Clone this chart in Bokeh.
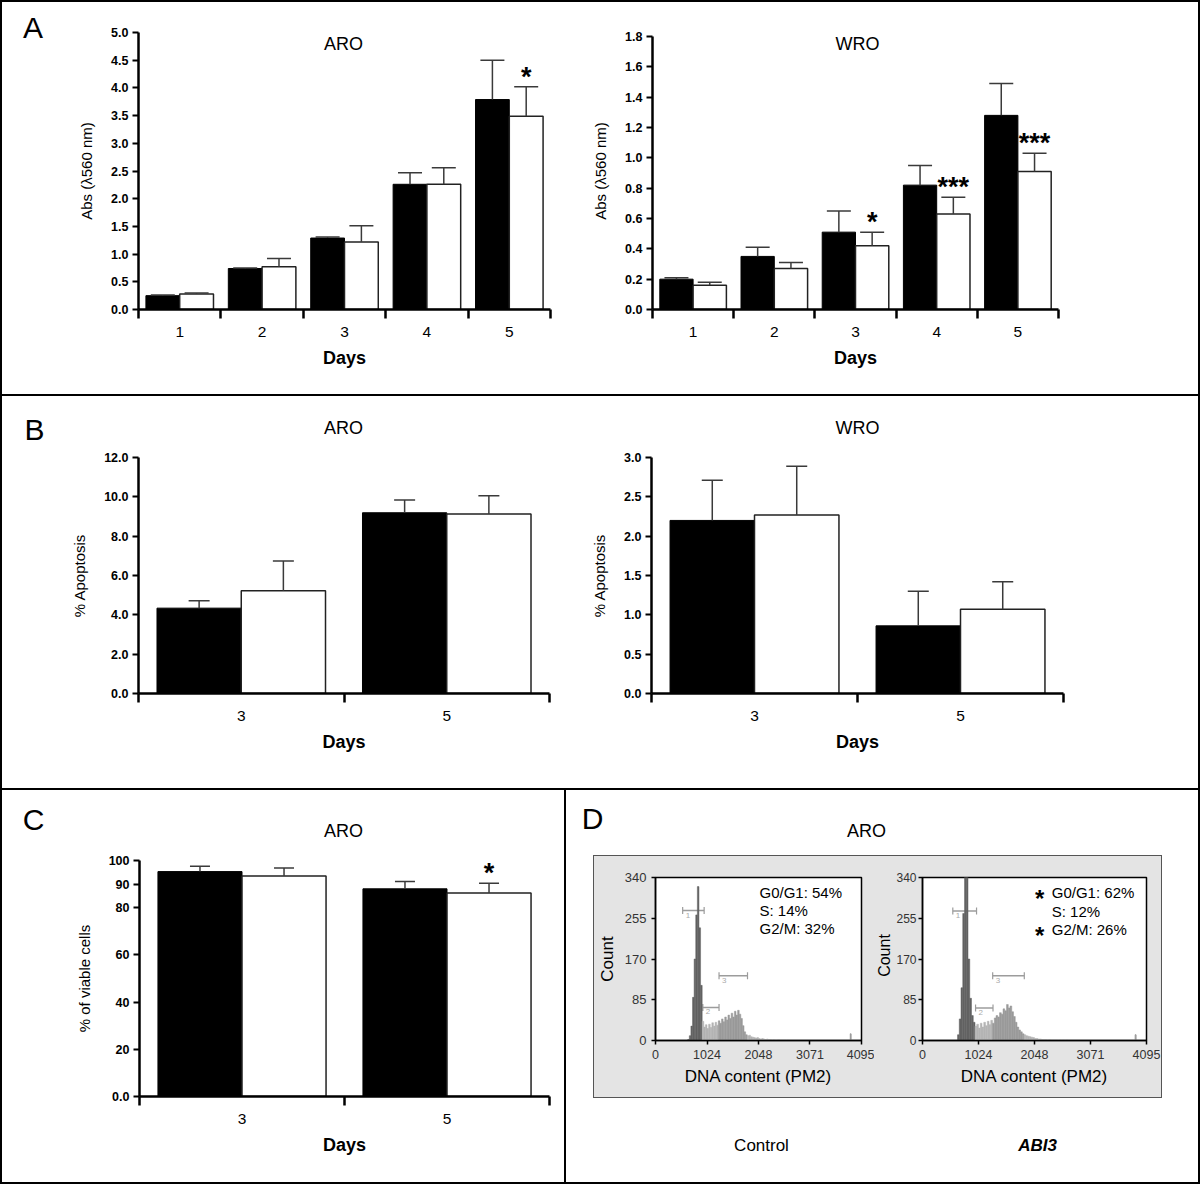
import math
from bokeh.plotting import figure
from bokeh.layouts import row, column
from bokeh.models import (Range1d, FixedTicker, Whisker, TeeHead, ColumnDataSource,
                          Spacer, Div)
from bokeh.core.properties import value
from bokeh.core.validation import silence
from bokeh.core.validation.warnings import MISSING_RENDERERS
from bokeh.embed import file_html
from bokeh.resources import INLINE

silence(MISSING_RENDERERS, True)
FONT = "Liberation Sans"

# ---------------- data ----------------
# A: proliferation, Abs (lambda 560 nm)
a_days = ["1", "2", "3", "4", "5"]
a_aro_ctrl = [0.25, 0.74, 1.29, 2.26, 3.79]
a_aro_ctrl_err = [0.01, 0.01, 0.02, 0.21, 0.71]
a_aro_abi3 = [0.28, 0.77, 1.22, 2.26, 3.49]
a_aro_abi3_err = [0.02, 0.15, 0.29, 0.30, 0.53]
a_aro_sig = ["", "", "", "", "*"]
a_aro_yticks = [0.0, 0.5, 1.0, 1.5, 2.0, 2.5, 3.0, 3.5, 4.0, 4.5, 5.0]
a_aro_ylabels = ["0.0", "0.5", "1.0", "1.5", "2.0", "2.5", "3.0", "3.5", "4.0", "4.5", "5.0"]

a_wro_ctrl = [0.20, 0.35, 0.51, 0.82, 1.28]
a_wro_ctrl_err = [0.01, 0.06, 0.14, 0.13, 0.21]
a_wro_abi3 = [0.16, 0.27, 0.42, 0.63, 0.91]
a_wro_abi3_err = [0.02, 0.04, 0.09, 0.11, 0.12]
a_wro_sig = ["", "", "*", "***", "***"]
a_wro_yticks = [0.0, 0.2, 0.4, 0.6, 0.8, 1.0, 1.2, 1.4, 1.6, 1.8]
a_wro_ylabels = ["0.0", "0.2", "0.4", "0.6", "0.8", "1.0", "1.2", "1.4", "1.6", "1.8"]

# B: % apoptosis
b_days = ["3", "5"]
b_aro_ctrl = [4.34, 9.19]
b_aro_ctrl_err = [0.38, 0.65]
b_aro_abi3 = [5.22, 9.13]
b_aro_abi3_err = [1.52, 0.93]
b_aro_sig = ["", ""]
b_aro_yticks = [0.0, 2.0, 4.0, 6.0, 8.0, 10.0, 12.0]
b_aro_ylabels = ["0.0", "2.0", "4.0", "6.0", "8.0", "10.0", "12.0"]

b_wro_ctrl = [2.20, 0.86]
b_wro_ctrl_err = [0.51, 0.44]
b_wro_abi3 = [2.27, 1.07]
b_wro_abi3_err = [0.62, 0.35]
b_wro_sig = ["", ""]
b_wro_yticks = [0.0, 0.5, 1.0, 1.5, 2.0, 2.5, 3.0]
b_wro_ylabels = ["0.0", "0.5", "1.0", "1.5", "2.0", "2.5", "3.0"]

# C: % of viable cells
c_days = ["3", "5"]
c_ctrl = [95.3, 88.0]
c_ctrl_err = [2.3, 3.1]
c_abi3 = [93.4, 86.2]
c_abi3_err = [3.4, 4.2]
c_sig = ["", "*"]
c_yticks = [0, 20, 40, 60, 80, 90, 100]
c_ylabels = ["0.0", "20", "40", "60", "80", "90", "100"]

# D: cell cycle histograms (DNA content, PM2 channel)
d_xticks = [0, 1024, 2048, 3071, 4095]
d_yticks = [0, 85, 170, 255, 340]
d_bin_start = 640
d_bin_width = 32
d_ctrl_counts = [2, 10, 30, 90, 170, 262, 321, 235, 115, 40,
                 28, 33, 25, 34, 27, 37, 30, 38, 32, 41,
                 36, 45, 39, 49, 43, 53, 46, 57, 49, 61,
                 53, 63, 55, 46, 31, 18, 12, 10, 11, 8,
                 7, 6, 5, 6, 4, 3, 4, 3, 2, 3,
                 2, 2, 1, 2, 1, 1, 2, 1, 1, 1,
                 1, 0, 1]
d_abi3_counts = [12, 45, 110, 265, 395, 360, 170, 88, 52, 38,
                 30, 34, 26, 36, 28, 38, 31, 40, 33, 42,
                 36, 47, 52, 49, 58, 55, 66, 62, 75, 68,
                 72, 60, 50, 38, 28, 22, 18, 14, 12, 10,
                 9, 8, 7, 6, 4, 4, 3, 3, 2, 2,
                 2, 1, 2, 1, 1, 1, 1, 0, 1, 0,
                 1, 0, 1]
d_ctrl_spike = [3872, 14]
d_abi3_spike = [3888, 12]
d_gate_names = ["1", "2", "3"]
d_ctrl_gates = [[540, 967], [941, 1263], [1263, 1829]]
d_ctrl_gate_y = [271, 69, 135]
d_abi3_gates = [[554, 988], [970, 1289], [1283, 1861]]
d_abi3_gate_y = [270, 68, 135]
d_ctrl_phases = ["G0/G1: 54%", "S: 14%", "G2/M: 32%"]
d_ctrl_sig = ["", "", ""]
d_abi3_phases = ["G0/G1: 62%", "S: 12%", "G2/M: 26%"]
d_abi3_sig = ["*", "", "*"]

BOX_GRAY = "#e4e4e4"


# ---------------- helpers ----------------
def new_fig(w, h, xr, yr, mb):
    l, r, t, b = mb
    p = figure(width=w, height=h, x_range=Range1d(*xr), y_range=Range1d(*yr),
               output_backend="svg", toolbar_location=None,
               min_border_left=l, min_border_right=r,
               min_border_top=t, min_border_bottom=b)
    p.xgrid.visible = False
    p.ygrid.visible = False
    p.outline_line_color = None
    p.background_fill_color = "white"
    p.border_fill_color = "white"
    return p, (w, h, l, r, t, b, xr, yr)


def to_data(g, x, y):
    w, h, l, r, t, b, xr, yr = g
    fw, fh = w - l - r, h - t - b
    return (xr[0] + (x - l) / fw * (xr[1] - xr[0]),
            yr[1] - (y - t) / fh * (yr[1] - yr[0]))


def bar_line(w, h, color="black"):
    return Div(text="", width=w, height=h, margin=0,
               styles={"background-color": color})


def text_fig(w, h, items, bg="white", mt=0, mb=0):
    """A blank canvas (pixel coordinates from its top-left, y downward) with free texts."""
    p = figure(width=w, height=h, output_backend="svg", toolbar_location=None,
               min_border_left=0, min_border_right=0, min_border_top=mt,
               min_border_bottom=mb, x_axis_type=None, y_axis_type=None,
               x_range=Range1d(0, w), y_range=Range1d(h - mb, mt))
    p.outline_line_color = None
    p.xgrid.visible = False
    p.ygrid.visible = False
    p.background_fill_color = bg
    p.border_fill_color = bg
    for x, y, txt, size, style, angle in items:
        p.text(x=[x], y=[y], text=[txt], angle=angle, text_font=value(FONT),
               text_font_size=size, text_font_style=style, text_align="center",
               text_baseline="middle", text_color="black")
    return p


def bar_panel(w, h, mb, cats, ctrl, ctrl_err, abi, abi_err, sig, yticks, ylabels,
              ylabel, title=None, title_px=None, cap=23, y_end=None):
    n = len(cats)
    pos = list(range(1, n + 1))
    top = yticks[-1] if y_end is None else y_end
    p, g = new_fig(w, h, (0.5, n + 0.5), (0, top), mb)
    xb = [x - 0.205 for x in pos]
    xw = [x + 0.205 for x in pos]
    p.vbar(x=xb, top=ctrl, width=0.41, fill_color="black", line_color="black", line_width=1)
    p.vbar(x=xw, top=abi, width=0.41, fill_color="white", line_color="#222222", line_width=1.5)
    for xs, v, e in ((xb, ctrl, ctrl_err), (xw, abi, abi_err)):
        src = ColumnDataSource(dict(base=xs, lower=v, upper=[a + b for a, b in zip(v, e)]))
        p.add_layout(Whisker(source=src, base="base", lower="lower", upper="upper",
                             line_color="#3a3a3a", line_width=1.5, level="overlay",
                             upper_head=TeeHead(size=cap, line_color="#3a3a3a", line_width=1.5),
                             lower_head=None))
    p.text(x=xw, y=[a + b for a, b in zip(abi, abi_err)], text=sig,
           text_font=value(FONT), text_font_size="27px", text_font_style="bold",
           text_align="center", text_baseline="alphabetic", y_offset=-10, text_color="black")
    if title:
        tx, ty = to_data(g, title_px[0], title_px[1])
        p.text(x=[tx], y=[ty], text=[title], text_font=value(FONT), text_font_size="18px",
               text_align="center", text_baseline="middle", text_color="black")

    xa, ya = p.xaxis[0], p.yaxis[0]
    xa.ticker = FixedTicker(ticks=pos, minor_ticks=[x - 0.5 for x in pos] + [pos[-1] + 0.5])
    xa.major_label_overrides = dict(zip(pos, cats))
    xa.major_tick_in = 0
    xa.major_tick_out = 0
    xa.minor_tick_in = 0
    xa.minor_tick_out = 9
    xa.minor_tick_line_width = 2.5
    xa.minor_tick_line_color = "black"
    xa.axis_line_width = 2.5
    xa.axis_line_color = "black"
    xa.major_label_text_font = FONT
    xa.major_label_text_font_size = "15.5px"
    xa.major_label_text_color = "black"
    xa.major_label_standoff = 8
    xa.axis_label = "Days"
    xa.axis_label_text_font = FONT
    xa.axis_label_text_font_size = "18px"
    xa.axis_label_text_font_style = "bold"
    xa.axis_label_text_color = "black"
    xa.axis_label_standoff = 8

    ya.ticker = FixedTicker(ticks=yticks, minor_ticks=[])
    ya.major_label_overrides = dict(zip(yticks, ylabels))
    ya.bounds = (0, yticks[-1])
    ya.major_tick_in = 0
    ya.major_tick_out = 6
    ya.major_tick_line_width = 2
    ya.major_tick_line_color = "black"
    ya.minor_tick_in = 0
    ya.minor_tick_out = 0
    ya.axis_line_width = 2.5
    ya.axis_line_color = "black"
    ya.major_label_text_font = FONT
    ya.major_label_text_font_size = "12.5px"
    ya.major_label_text_font_style = "bold"
    ya.major_label_text_color = "black"
    ya.major_label_standoff = 4
    ya.axis_label = ylabel
    ya.axis_label_text_font = FONT
    ya.axis_label_text_font_size = "15px"
    ya.axis_label_text_font_style = "normal"
    ya.axis_label_text_color = "black"
    ya.axis_label_standoff = 13
    return p


def hist_panel(w, h, mb, counts, spike, gates, gate_y, phases, sig, text_px, ylabel,
               tick_standoff=5, ytick_size="13px"):
    p, g = new_fig(w, h, (0, 4095), (0, 340), mb)
    p.outline_line_color = "black"
    p.outline_line_width = 1.5
    p.border_fill_color = BOX_GRAY
    lefts = [d_bin_start + i * d_bin_width for i in range(len(counts))]
    rights = [x + d_bin_width for x in lefts]
    colors = []
    for x in lefts:
        c = x + d_bin_width / 2
        if c < gates[1][0]:
            colors.append("#626262")
        elif c < gates[2][0]:
            colors.append("#b4b4b4")
        elif c <= gates[2][1]:
            colors.append("#9a9a9a")
        else:
            colors.append("#b4b4b4")
    p.quad(left=lefts, right=rights, bottom=0, top=counts,
           fill_color=colors, line_color=colors, line_width=0.5)
    p.quad(left=[spike[0]], right=[spike[0] + 16], bottom=0, top=[spike[1]],
           fill_color="#9a9a9a", line_color="#9a9a9a")
    src = ColumnDataSource(dict(base=gate_y, lower=[a for a, _ in gates],
                                upper=[b for _, b in gates]))
    p.add_layout(Whisker(source=src, dimension="width", base="base", lower="lower",
                         upper="upper", line_color="#9c9c9c", line_width=1.5,
                         upper_head=TeeHead(size=7, line_color="#9c9c9c", line_width=1.2),
                         lower_head=TeeHead(size=7, line_color="#9c9c9c", line_width=1.2)))
    p.text(x=[a for a, _ in gates], y=gate_y, text=d_gate_names, x_offset=3, y_offset=2,
           text_font=value(FONT), text_font_size="8px", text_color="#aaaaaa",
           text_align="left", text_baseline="top")
    tx, ty0 = text_px
    xs, ys = [], []
    for i in range(len(phases)):
        x, y = to_data(g, tx, ty0 + i * 18.3)
        xs.append(x)
        ys.append(y)
    p.text(x=xs, y=ys, text=phases, text_font=value(FONT), text_font_size="15px",
           text_align="left", text_baseline="middle", text_color="black")
    p.text(x=xs, y=ys, text=sig, x_offset=-12, y_offset=6, text_font=value(FONT),
           text_font_size="24px", text_font_style="bold", text_align="center",
           text_baseline="middle", text_color="black")

    xa, ya = p.xaxis[0], p.yaxis[0]
    xa.ticker = FixedTicker(ticks=d_xticks, minor_ticks=[])
    ya.ticker = FixedTicker(ticks=d_yticks, minor_ticks=[])
    for ax in (xa, ya):
        ax.major_tick_in = 0
        ax.major_tick_out = 4
        ax.minor_tick_in = 0
        ax.minor_tick_out = 0
        ax.axis_line_width = 1.5
        ax.axis_line_color = "black"
        ax.major_tick_line_width = 1.5
        ax.major_label_text_font = FONT
        ax.major_label_text_font_size = "12.5px"
        ax.major_label_text_color = "#333333"
        ax.major_label_standoff = 5
        ax.axis_label_text_font = FONT
        ax.axis_label_text_font_size = "17px"
        ax.axis_label_text_font_style = "normal"
        ax.axis_label_text_color = "black"
        ax.axis_label_standoff = 5
    ya.major_label_standoff = tick_standoff
    ya.major_label_text_font_size = ytick_size
    xa.axis_label = "DNA content (PM2)"
    ya.axis_label = ylabel
    return p


# ---------------- panels ----------------
# Row A (letter as an HTML block so that it is not tied to a plot frame)
letter_a = Div(text="<div style=\"font-family:'Liberation Sans';font-size:30px;"
                    "line-height:30px;padding:11px 0 0 21px;color:black;\">A</div>",
               width=58, height=392, margin=0)
aro_a = bar_panel(520, 392, (78, 30, 30, 85), a_days, a_aro_ctrl, a_aro_ctrl_err,
                  a_aro_abi3, a_aro_abi3_err, a_aro_sig, a_aro_yticks, a_aro_ylabels,
                  "Abs (\u03bb560 nm)", "ARO", (283, 41), cap=24)
wro_a = bar_panel(618, 392, (72, 140, 30, 85), a_days, a_wro_ctrl, a_wro_ctrl_err,
                  a_wro_abi3, a_wro_abi3_err, a_wro_sig, a_wro_yticks, a_wro_ylabels,
                  "Abs (\u03bb560 nm)", "WRO", (277, 41), cap=24,
                  y_end=a_wro_yticks[-1] * 277 / 273)
row_a = row(letter_a, aro_a, wro_a)

# Row B
head_b = text_fig(1196, 50, [(32, 33, "B", "30px", "normal", 0),
                             (341, 31, "ARO", "18px", "normal", 0),
                             (855, 31, "WRO", "18px", "normal", 0)])
aro_b = bar_panel(578, 342, (136, 31, 11, 95), b_days, b_aro_ctrl, b_aro_ctrl_err,
                  b_aro_abi3, b_aro_abi3_err, b_aro_sig, b_aro_yticks, b_aro_ylabels,
                  "% Apoptosis", cap=21)
wro_b = bar_panel(618, 342, (71, 135, 11, 95), b_days, b_wro_ctrl, b_wro_ctrl_err,
                  b_wro_abi3, b_wro_abi3_err, b_wro_sig, b_wro_yticks, b_wro_ylabels,
                  "% Apoptosis", cap=21)
row_b = column(head_b, row(aro_b, wro_b))

# Panel C
head_c = text_fig(562, 50, [(31, 29, "C", "30px", "normal", 0),
                            (341, 40, "ARO", "18px", "normal", 0)])
c_fig = bar_panel(562, 342, (137, 15, 20, 86), c_days, c_ctrl, c_ctrl_err,
                  c_abi3, c_abi3_err, c_sig, c_yticks, c_ylabels,
                  "% of viable cells", cap=20)
col_c = column(head_c, row(c_fig))

# Panel D
hist_l = hist_panel(280, 241, (59, 13, 21, 57), d_ctrl_counts, d_ctrl_spike,
                    d_ctrl_gates, d_ctrl_gate_y, d_ctrl_phases, d_ctrl_sig,
                    (164, 35.7), "Count")
count_strip = text_fig(19, 241, [(9.5, 99, "Count", "16px", "normal", math.pi / 2)],
                       bg=BOX_GRAY, mt=21, mb=57)
hist_r = hist_panel(268, 241, (26, 15, 21, 57), d_abi3_counts, d_abi3_spike,
                    d_abi3_gates, d_abi3_gate_y, d_abi3_phases, d_abi3_sig,
                    (157, 36.3), None, tick_standoff=2, ytick_size="12px")

d_top = text_fig(632, 65, [(26, 28, "D", "30px", "normal", 0),
                           (300, 40, "ARO", "18px", "normal", 0)])
d_bot = text_fig(632, 84, [(195, 47, "Control", "17px", "normal", 0),
                           (471, 47, "ABI3", "17px", "bold italic", 0)])

inner = row(hist_l, count_strip, hist_r, styles={"background-color": BOX_GRAY})
box = column(bar_line(569, 1, "#555555"),
             row(bar_line(1, 241, "#555555"), inner, bar_line(1, 241, "#555555")),
             bar_line(569, 1, "#555555"),
             styles={"background-color": BOX_GRAY})
d_col = column(d_top,
               row(Spacer(width=27, height=243, margin=0), box,
                   Spacer(width=36, height=243, margin=0)),
               d_bot)

layout = column(
    bar_line(1200, 2),
    row(bar_line(2, 392), row_a, bar_line(2, 392)),
    bar_line(1200, 2),
    row(bar_line(2, 392), row_b, bar_line(2, 392)),
    bar_line(1200, 2),
    row(bar_line(2, 392), col_c, bar_line(2, 392), d_col, bar_line(2, 392)),
    bar_line(1200, 2),
)

open("out.html", "w").write(file_html(layout, INLINE))
